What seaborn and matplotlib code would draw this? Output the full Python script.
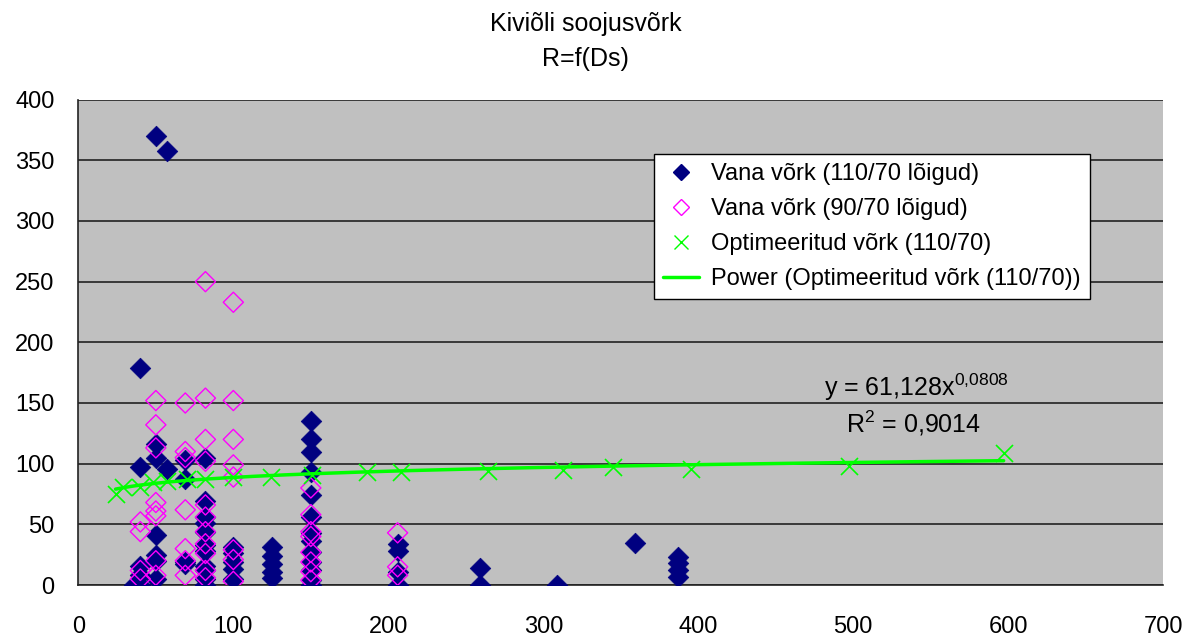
import numpy as np
import pandas as pd
import matplotlib
matplotlib.use("Agg")
import matplotlib.pyplot as plt
import seaborn as sns
from matplotlib.lines import Line2D

# ---- data ----
title_lines = ["Kiviõli soojusvõrk", "R=f(Ds)"]
series_names = ["Vana võrk (110/70 lõigud)", "Vana võrk (90/70 lõigud)",
                "Optimeeritud võrk (110/70)", "Power (Optimeeritud võrk (110/70))"]

old110_x = [50, 57, 40, 40, 40, 40, 40, 36,
            50, 50, 50, 50, 50, 50,
            57, 69, 69, 69, 69,
            82, 82, 82, 82, 82, 82, 82, 82, 82, 82, 82,
            100, 100, 100, 100, 100,
            125, 125, 125, 125, 125,
            150, 150, 150, 150, 150, 150, 150, 150, 150, 150, 150, 150, 150,
            206, 206, 206, 206, 259, 259, 309, 359, 387, 387, 387, 387]
old110_y = [370, 358, 179, 97, 16, 8, 0, 0,
            116, 105, 41, 25, 20, 5,
            96, 103, 87, 19, 17,
            105, 69, 56, 51, 44, 33, 28, 16, 12, 5, 0,
            31, 26, 19, 13, 5,
            31, 24, 17, 11, 6,
            135, 120, 110, 93, 74, 56, 43, 36, 27, 19, 12, 4, 0,
            34, 28, 11, 0, 14, 0, 0, 35, 23, 18, 12, 7]

old90_x = [40, 40, 40, 40,
           50, 50, 50, 50, 50, 50, 50, 50,
           69, 69, 69, 69, 69, 69, 69,
           82, 82, 82, 82, 82, 82, 82, 82, 82, 82, 82,
           100, 100, 100, 100, 100, 100, 100, 100,
           150, 150, 150, 150, 150, 150, 150, 150,
           206, 206, 206]
old90_y = [52, 44, 12, 5,
           152, 132, 113, 68, 61, 57, 20, 8,
           150, 110, 105, 62, 30, 20, 8,
           250, 154, 120, 102, 66, 56, 44, 34, 26, 12, 6,
           233, 152, 120, 99, 89, 29, 21, 3,
           80, 58, 44, 40, 27, 19, 11, 4,
           43, 15, 8]

opt_x = [24, 29, 40, 48, 57, 70, 82, 100, 124, 151, 186, 208, 264, 313, 345, 395, 497, 597]
opt_y = [75, 81, 81, 85, 86, 87, 87, 89, 89, 91, 93, 93, 94, 95, 97, 96, 98, 109]

fit_a, fit_b = 61.128, 0.0808
eq_text = r"y = 61,128x$^{\mathregular{0{,}0808}}$"
r2_text = r"R$^{\mathregular{2}}$ = 0,9014"

x_ticks = [0, 100, 200, 300, 400, 500, 600, 700]
y_ticks = [0, 50, 100, 150, 200, 250, 300, 350, 400]

# ---- plot ----
sns.set_theme(style="white")
plt.rcParams['font.family'] = ['Liberation Sans', 'DejaVu Sans']
plt.rcParams['text.color'] = 'black'
plt.rcParams['mathtext.fontset'] = 'custom'
plt.rcParams['mathtext.rm'] = 'Liberation Sans'
plt.rcParams['mathtext.it'] = 'Liberation Sans'

fig = plt.figure(figsize=(11.87, 6.37), dpi=100)
ax = fig.add_axes([0.066, 0.0816, 0.914, 0.762])
ax.set_facecolor("#C0C0C0")

for y in y_ticks:
    ax.axhline(y, color="#222222", lw=1.2, zorder=1)

df110 = pd.DataFrame({"x": old110_x, "y": old110_y})
df90 = pd.DataFrame({"x": old90_x, "y": old90_y})
dfopt = pd.DataFrame({"x": opt_x, "y": opt_y})

sns.scatterplot(data=df110, x="x", y="y", marker="D", s=110, color="#000080",
                edgecolor="#000080", linewidth=0.5, ax=ax, zorder=3, legend=False)
sns.scatterplot(data=df90, x="x", y="y", marker="D", s=105, facecolors="none",
                edgecolor="#FF00FF", linewidth=1.0, ax=ax, zorder=4, legend=False)
sns.scatterplot(data=dfopt, x="x", y="y", marker="x", s=150, color="#00FF00",
                linewidth=1.2, ax=ax, zorder=5, legend=False)

fx = np.linspace(min(opt_x), max(opt_x), 200)
fy = fit_a * fx ** fit_b
sns.lineplot(x=fx, y=fy, color="#00FF00", lw=2.5, ax=ax, zorder=6)

ax.set_xlim(0, 700)
ax.set_ylim(0, 400)
ax.set_xticks(x_ticks)
ax.set_yticks(y_ticks)
ax.tick_params(axis="both", labelsize=17, direction="out", length=7, width=1,
               color="black", labelcolor="black")
ax.tick_params(axis="x", pad=15)
ax.tick_params(axis="y", pad=10)
ax.set_xlabel("")
ax.set_ylabel("")
for s in ["top", "right"]:
    ax.spines[s].set_visible(False)
for s in ["left", "bottom"]:
    ax.spines[s].set_color("#222222")
    ax.spines[s].set_linewidth(1.2)

fig.text(0.4935, 0.963, title_lines[0], ha="center", va="center", fontsize=18)
fig.text(0.4935, 0.908, title_lines[1], ha="center", va="center", fontsize=18)

ax.text(541, 163, eq_text, ha="center", va="center", fontsize=18)
ax.text(539, 133, r2_text, ha="center", va="center", fontsize=18)

handles = [
    Line2D([], [], marker="D", ls="none", color="#000080", markersize=8),
    Line2D([], [], marker="D", ls="none", markerfacecolor="none",
           markeredgecolor="#FF00FF", markersize=8),
    Line2D([], [], marker="x", ls="none", color="#00FF00", markersize=10),
    Line2D([], [], color="#00FF00", lw=2.5),
]
leg = ax.legend(handles, series_names, loc="upper left",
                bbox_to_anchor=(0.5306, 0.889), borderaxespad=0,
                fontsize=17, frameon=True,
                fancybox=False, edgecolor="black", facecolor="white",
                framealpha=1, borderpad=0.4, labelspacing=0.55,
                handlelength=1.5, handletextpad=0.5)
leg.get_frame().set_linewidth(1)
leg.set_zorder(10)

fig.savefig("out.png", dpi=100, facecolor="white")
